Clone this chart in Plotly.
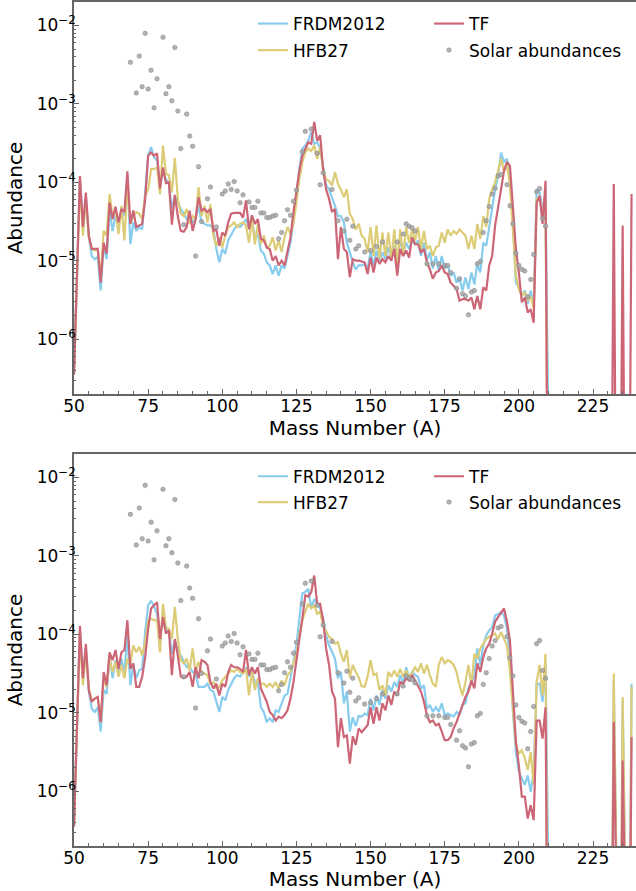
import plotly.graph_objects as go

# ---------------- data (log10 of abundance) ----------------
mass_main = list(range(50, 210))      # A = 50 .. 209
mass_tail = list(range(210, 239))     # A = 210 .. 238

# ---- top panel ----
frdm_top_log = [
    -6.45, -5.2, -3.95, -4.55, -4.2, -4.7, -4.94, -4.98, -4.95, -5.38,
    -4.81, -4.98, -4.34, -4.62, -4.43, -4.53, -4.36, -4.43, -3.92, -4.79,
    -4.51, -4.62, -4.57, -4.60, -4.17, -3.66, -3.55, -3.68, -3.72, -4.04,
    -3.87, -3.96, -4.02, -4.34, -4.17, -4.26, -4.34, -4.40, -4.47, -4.43,
    -4.51, -4.47, -4.30, -4.51, -4.53, -4.55, -4.55, -4.60, -4.85, -5.02,
    -4.85, -4.91, -4.74, -4.66, -4.60, -4.55, -4.57, -4.53, -4.47, -4.57,
    -4.51, -4.68, -4.66, -4.87, -4.91, -5.02, -5.06, -5.17, -5.06, -5.19,
    -5.06, -5.10, -4.94, -4.77, -4.47, -4.13, -3.83, -3.57, -3.53, -3.47,
    -3.36, -3.51, -3.49, -3.57, -3.83, -4.04, -4.09, -4.19, -4.30, -4.43,
    -4.43, -4.51, -4.77, -4.89, -5.02, -5.11, -5.06, -5.06, -5.04, -5.10,
    -4.89, -5.06, -4.87, -5.00, -4.89, -4.98, -4.83, -4.96, -4.81, -5.00,
    -4.74, -4.89, -4.77, -4.85, -4.74, -4.79, -4.74, -4.94, -4.77, -5.00,
    -4.89, -5.10, -4.94, -5.13, -4.94, -5.10, -5.06, -5.19, -5.15, -5.28,
    -5.23, -5.38, -5.21, -5.36, -5.15, -5.30, -5.04, -5.15, -4.77, -4.81,
    -4.55, -4.34, -4.09, -3.91, -3.62, -3.74, -3.70, -3.96, -4.51, -5.28,
    -5.34, -5.45, -5.38, -5.55, -5.38, -5.57, -4.09, -4.13, -4.34, -4.35,
]
hfb_top_log = [
    -6.45, -5.2, -4.0, -4.68, -4.21, -4.70, -4.85, -4.87, -4.85, -5.21,
    -4.62, -4.68, -4.15, -4.43, -4.34, -4.66, -4.30, -4.74, -4.04, -4.53,
    -4.43, -4.38, -4.40, -4.47, -4.17, -4.09, -3.83, -3.83, -3.81, -4.15,
    -3.53, -3.89, -3.91, -4.13, -3.69, -4.21, -4.40, -4.43, -4.34, -4.53,
    -4.43, -4.47, -4.06, -4.43, -4.30, -4.51, -4.28, -4.68, -4.81, -4.70,
    -4.83, -4.68, -4.57, -4.55, -4.51, -4.57, -4.53, -4.51, -4.55, -4.77,
    -4.47, -4.79, -4.53, -4.79, -4.68, -4.83, -4.81, -4.70, -4.87, -4.74,
    -4.89, -4.70, -4.57, -4.66, -4.53, -4.26, -3.96, -3.74, -3.62, -3.57,
    -3.60, -3.53, -3.70, -3.55, -3.83, -3.96, -3.98, -4.04, -3.87, -4.02,
    -4.09, -4.19, -4.09, -4.40, -4.47, -4.60, -4.53, -4.68, -4.72, -4.89,
    -4.57, -4.94, -4.55, -4.98, -4.64, -4.94, -4.64, -4.98, -4.60, -5.06,
    -4.60, -4.94, -4.57, -4.77, -4.60, -4.74, -4.57, -4.85, -4.62, -4.85,
    -4.81, -4.94, -4.83, -4.81, -4.64, -4.77, -4.60, -4.68, -4.62, -4.66,
    -4.60, -4.64, -4.68, -4.85, -4.68, -4.85, -4.53, -4.72, -4.43, -4.57,
    -4.21, -4.09, -4.00, -3.85, -3.70, -3.87, -3.77, -4.04, -4.68, -5.19,
    -5.36, -5.45, -5.40, -5.51, -5.45, -5.62, -4.21, -4.21, -4.38, -4.30,
]
tf_top_log = [
    -6.45, -5.2, -3.92, -4.57, -4.13, -4.68, -4.85, -4.85, -4.85, -5.28,
    -4.77, -4.91, -4.26, -4.47, -4.31, -4.51, -4.34, -4.38, -3.86, -4.53,
    -4.36, -4.57, -4.55, -4.53, -4.21, -3.66, -3.62, -3.66, -3.63, -4.08,
    -3.81, -4.01, -4.00, -4.54, -4.16, -4.43, -4.62, -4.63, -4.57, -4.36,
    -4.62, -4.47, -4.19, -4.36, -4.34, -4.38, -4.34, -4.62, -4.60, -4.81,
    -4.64, -4.68, -4.51, -4.40, -4.39, -4.39, -4.39, -4.45, -4.23, -4.60,
    -4.42, -4.53, -4.47, -4.72, -4.74, -4.83, -4.85, -5.00, -4.94, -5.06,
    -5.00, -5.06, -4.89, -4.70, -4.38, -4.11, -3.85, -3.66, -3.57, -3.49,
    -3.51, -3.23, -3.47, -3.40, -3.83, -4.09, -4.21, -4.38, -4.34, -4.98,
    -4.57, -4.85, -4.89, -5.21, -4.98, -5.00, -5.00, -5.01, -5.02, -5.17,
    -4.96, -5.15, -4.96, -5.04, -4.98, -5.02, -4.94, -5.00, -4.85, -5.19,
    -4.85, -4.94, -4.87, -4.96, -4.70, -4.79, -4.79, -4.89, -4.85, -5.02,
    -5.11, -5.23, -5.15, -5.13, -5.06, -5.15, -5.17, -5.28, -5.32, -5.36,
    -5.51, -5.49, -5.49, -5.51, -5.47, -5.62, -5.45, -5.62, -5.34, -5.38,
    -5.06, -4.94, -4.55, -4.34, -4.09, -3.85, -3.74, -3.79, -4.30, -4.85,
    -5.15, -5.53, -5.47, -5.66, -5.62, -5.79, -4.26, -4.17, -4.53, -3.98,
]
# A = 210..238 ; -10 marks a vanishing abundance (drawn off the bottom of the axis)
frdm_top_tail_log = [
    -10, -10, -10, -10, -10, -10, -10, -10, -10, -10, -10,
    -10, -10, -10, -10, -10, -10, -10, -10, -10, -10, -10,
    -10, -10, -10, -10, -10, -10, -10,
]
hfb_top_tail_log = [
    -10, -10, -10, -10, -10, -10, -10, -10, -10, -10, -10,
    -10, -10, -10, -10, -10, -10, -10, -10, -10, -10, -10,
    -10, -10, -10, -10, -10, -10, -10,
]
tf_top_tail_log = [
    -10, -10, -10, -10, -10, -10, -10, -10, -10, -10, -10,
    -10, -10, -10, -10, -10, -10, -10, -10, -10, -10, -10,
    -4.02, -10, -10, -4.55, -10, -10, -4.15,
]

# ---- bottom panel ----
frdm_bot_log = [
    -6.45, -5.2, -3.95, -4.52, -4.18, -4.73, -4.95, -4.99, -4.93, -5.24,
    -4.71, -4.76, -4.27, -4.56, -4.33, -4.52, -4.31, -4.50, -3.99, -4.65,
    -4.39, -4.56, -4.46, -4.44, -3.97, -3.63, -3.57, -3.65, -3.74, -4.01,
    -3.84, -3.95, -3.95, -4.25, -4.08, -4.20, -4.27, -4.35, -4.42, -4.42,
    -4.48, -4.50, -4.67, -4.67, -4.67, -4.63, -4.71, -4.73, -4.86, -4.99,
    -4.80, -4.84, -4.71, -4.63, -4.56, -4.52, -4.54, -4.48, -4.42, -4.54,
    -4.48, -4.61, -4.61, -4.93, -4.99, -5.12, -5.07, -5.12, -4.97, -4.99,
    -4.88, -4.78, -4.76, -4.56, -4.35, -4.14, -3.80, -3.48, -3.46, -3.42,
    -3.67, -3.55, -3.61, -3.67, -3.80, -4.01, -4.14, -4.23, -4.31, -4.56,
    -4.48, -4.88, -4.73, -5.24, -5.06, -5.17, -5.04, -5.05, -5.01, -5.03,
    -4.82, -4.97, -4.78, -4.90, -4.71, -4.82, -4.65, -4.73, -4.61, -4.67,
    -4.52, -4.63, -4.42, -4.56, -4.48, -4.52, -4.54, -4.69, -4.65, -4.95,
    -4.90, -4.99, -4.93, -4.99, -4.88, -5.03, -5.01, -5.03, -5.05, -4.99,
    -5.03, -4.90, -4.88, -4.69, -4.61, -4.54, -4.18, -4.39, -4.14, -4.01,
    -3.95, -3.91, -3.76, -3.74, -3.72, -3.76, -3.93, -4.27, -4.99, -5.50,
    -5.75, -5.84, -5.92, -5.80, -6.01, -5.75, -4.63, -4.63, -4.86, -4.39,
]
hfb_bot_log = [
    -6.45, -5.2, -4.0, -4.65, -4.23, -4.69, -4.86, -4.82, -4.80, -5.12,
    -4.56, -4.67, -4.31, -4.48, -4.35, -4.54, -4.39, -4.56, -4.31, -4.39,
    -4.14, -4.23, -4.16, -4.27, -4.10, -3.82, -3.80, -3.82, -3.82, -4.23,
    -3.61, -3.91, -3.93, -4.06, -3.65, -4.06, -4.33, -4.37, -4.31, -4.46,
    -4.18, -4.48, -4.35, -4.48, -4.50, -4.52, -4.63, -4.61, -4.69, -4.67,
    -4.59, -4.54, -4.50, -4.46, -4.48, -4.44, -4.48, -4.50, -4.44, -4.78,
    -4.48, -4.71, -4.56, -4.63, -4.63, -4.67, -4.63, -4.67, -4.61, -4.69,
    -4.59, -4.65, -4.52, -4.48, -4.35, -4.25, -4.01, -3.82, -3.71, -3.61,
    -3.67, -3.63, -3.74, -3.71, -3.89, -3.97, -4.03, -4.06, -4.12, -4.10,
    -4.25, -4.35, -4.20, -4.55, -4.39, -4.48, -4.55, -4.66, -4.67, -4.54,
    -4.33, -4.52, -4.50, -4.71, -4.65, -4.78, -4.48, -4.54, -4.46, -4.54,
    -4.44, -4.54, -4.46, -4.56, -4.48, -4.42, -4.48, -4.37, -4.50, -4.39,
    -4.52, -4.63, -4.67, -4.39, -4.29, -4.37, -4.33, -4.35, -4.39, -4.48,
    -4.65, -4.78, -4.61, -4.39, -4.65, -4.25, -4.31, -4.18, -4.12, -4.06,
    -4.03, -4.01, -3.99, -4.06, -3.97, -4.06, -4.14, -4.48, -4.97, -5.41,
    -5.52, -5.48, -5.58, -5.73, -5.50, -5.92, -4.61, -4.39, -4.78, -4.25,
]
tf_bot_log = [
    -6.45, -5.2, -3.89, -4.56, -4.12, -4.71, -4.86, -4.82, -4.80, -5.12,
    -4.48, -4.65, -4.23, -4.33, -4.20, -4.44, -4.23, -4.20, -3.82, -4.44,
    -4.37, -4.67, -4.67, -4.54, -4.29, -3.93, -3.67, -3.63, -3.59, -4.06,
    -3.78, -3.99, -3.95, -4.52, -4.06, -4.27, -4.54, -4.56, -4.54, -4.48,
    -4.67, -4.42, -4.56, -4.33, -4.35, -4.39, -4.61, -4.69, -4.63, -4.78,
    -4.63, -4.67, -4.48, -4.39, -4.42, -4.42, -4.44, -4.48, -4.20, -4.52,
    -4.42, -4.50, -4.42, -4.69, -4.78, -4.86, -4.99, -5.03, -5.10, -5.05,
    -5.07, -5.03, -4.97, -4.82, -4.61, -4.31, -4.06, -3.80, -3.50, -3.52,
    -3.46, -3.25, -3.61, -3.61, -3.82, -4.18, -4.39, -4.73, -4.82, -5.44,
    -5.07, -5.31, -5.29, -5.65, -5.30, -5.41, -5.20, -5.25, -5.20, -5.16,
    -4.93, -5.14, -4.93, -5.10, -4.88, -4.97, -4.78, -4.90, -4.73, -4.78,
    -4.61, -4.63, -4.56, -4.59, -4.52, -4.59, -4.65, -4.73, -4.86, -5.03,
    -5.12, -5.10, -5.16, -5.14, -5.24, -5.35, -5.35, -5.31, -5.20, -5.12,
    -5.01, -4.90, -4.80, -4.73, -4.59, -4.69, -4.37, -4.48, -4.29, -4.18,
    -4.12, -3.99, -3.84, -3.78, -3.72, -3.67, -3.84, -4.08, -4.73, -5.37,
    -5.67, -6.07, -6.07, -6.35, -6.18, -6.37, -5.10, -5.10, -5.33, -4.93,
]
frdm_bot_tail_log = [
    -10, -10, -10, -10, -10, -10, -10, -10, -10, -10, -10,
    -10, -10, -10, -10, -10, -10, -10, -10, -10, -10, -10,
    -4.60, -10, -10, -4.85, -10, -10, -4.63,
]
hfb_bot_tail_log = [
    -10, -10, -10, -10, -10, -10, -10, -10, -10, -10, -10,
    -10, -10, -10, -10, -10, -10, -10, -10, -10, -10, -10,
    -4.50, -10, -10, -4.80, -10, -10, -4.67,
]
tf_bot_tail_log = [
    -10, -10, -10, -10, -10, -10, -10, -10, -10, -10, -10,
    -10, -10, -10, -10, -10, -10, -10, -10, -10, -10, -10,
    -5.12, -10, -10, -5.61, -10, -10, -5.31,
]

# ---- solar r-process abundances (same in both panels) ----
solar_mass = [
    69, 71, 72, 73, 74, 75, 76, 77, 78, 80, 81, 82, 83, 84, 85, 86, 87, 88, 89, 90,
    91, 92, 93, 95, 96, 98, 100, 101, 102, 103, 104, 105, 106, 107, 109, 110, 111,
    112, 113, 114, 115, 116, 117, 118, 119, 120, 121, 122, 123, 124, 125, 127, 128,
    130, 132, 133, 134, 137, 139, 141, 142, 143, 144, 145, 146, 148, 150, 152, 154,
    159, 161, 162, 163, 164, 165, 169, 171, 173, 175, 176, 177, 179, 180, 181, 182,
    183, 184, 185, 186, 187, 188, 189, 190, 191, 192, 193, 194, 196, 197, 198, 199,
    200, 201, 202, 203, 204, 205, 206, 207, 208, 209,
]
solar_log = [
    -2.47, -2.86, -2.39, -2.78, -2.10, -2.81, -2.57, -3.05, -2.68, -2.15, -2.87,
    -2.78, -2.96, -2.28, -3.09, -3.57, -4.54, -3.13, -3.41, -3.54,
    -4.94, -3.80, -4.50, -4.21, -4.06, -4.57, -4.15, -4.11, -4.02, -4.09, -3.99,
    -4.11, -4.26, -4.16, -4.25, -4.32, -4.32,
    -4.24, -4.39, -4.39, -4.45, -4.45, -4.43, -4.42, -4.72, -4.64, -4.49, -4.35,
    -4.42, -4.24, -4.10, -3.61, -3.35,
    -3.32, -3.63, -4.03, -3.88, -4.09, -4.49, -4.62, -4.47, -4.74, -4.56, -4.85,
    -4.81, -4.89, -4.87, -4.82, -4.76,
    -4.76, -4.66, -4.53, -4.56, -4.58, -4.62, -5.04, -5.04, -5.04, -5.06, -5.06,
    -5.15, -5.35, -5.23, -5.42, -5.45,
    -5.69, -5.40, -5.38, -5.04, -5.01, -4.64, -4.49, -4.31, -4.15, -4.08, -3.92,
    -3.90, -4.03, -4.30, -4.53, -4.90,
    -5.06, -5.11, -5.13, -5.46, -5.24, -4.92, -4.12, -4.08, -4.46, -4.56,
]

y_tick_vals = [1e-6, 1e-5, 1e-4, 1e-3, 1e-2]
y_tick_text = ["10<sup>−6</sup>", "10<sup>−5</sup>", "10<sup>−4</sup>",
               "10<sup>−3</sup>", "10<sup>−2</sup>"]
x_tick_vals = [50, 75, 100, 125, 150, 175, 200, 225]

# ---------------- styling ----------------
C_FRDM = "#88CCEE"
C_HFB = "#DDCC77"
C_TF = "#CC6677"
C_SOLAR = "rgba(165,165,165,0.85)"
AX = "#666666"
FONT = "DejaVu Sans"

mass_all = mass_main + mass_tail


def pow10(vals):
    return [10 ** v for v in vals]


fig = go.Figure()

panels = [
    ("", "y", (frdm_top_log + frdm_top_tail_log, hfb_top_log + hfb_top_tail_log,
               tf_top_log + tf_top_tail_log), ["legend", "legend2", "legend3", "legend4"]),
    ("2", "y2", (frdm_bot_log + frdm_bot_tail_log, hfb_bot_log + hfb_bot_tail_log,
                 tf_bot_log + tf_bot_tail_log), ["legend5", "legend6", "legend7", "legend8"]),
]

for suffix, yref, (frdm, hfb, tf), legs in panels:
    xref = "x" + suffix
    for name, vals, col, lg in [("FRDM2012", frdm, C_FRDM, legs[0]),
                                ("HFB27", hfb, C_HFB, legs[1]),
                                ("TF", tf, C_TF, legs[2])]:
        fig.add_trace(go.Scatter(
            x=mass_all, y=pow10(vals), mode="lines", name=name,
            line=dict(color=col, width=2.2), xaxis=xref, yaxis=yref, legend=lg,
        ))
    fig.add_trace(go.Scatter(
        x=solar_mass, y=pow10(solar_log), mode="markers", name="Solar abundances",
        marker=dict(color=C_SOLAR, size=4.5, line=dict(color="rgba(125,125,125,0.9)", width=0.5)),
        xaxis=xref, yaxis=yref, legend=legs[3],
    ))

W, H = 636, 891
ML, MR, MT, MB = 74, 0, 2, 45
PH = H - MT - MB
top_dom = [(PH - 392) / PH, 1.0]
bot_dom = [0.0, 392 / PH]

minor_y = []
for e in range(-7, -1):
    for m in range(2, 10):
        minor_y.append(m * 10 ** e)

xcommon = dict(
    range=[50, 239.5], tickvals=x_tick_vals, ticks="inside", ticklen=5, tickwidth=1.2,
    tickcolor=AX, showline=True, linecolor=AX, linewidth=1.5, mirror=True,
    showgrid=False, zeroline=False, tickfont=dict(family=FONT, size=17, color="black"),
    ticklabelstandoff=-4,
    minor=dict(ticks="inside", ticklen=3, tickcolor=AX, dtick=5, tick0=50, showgrid=False),
    title=dict(text="Mass Number (A)", font=dict(family=FONT, size=20, color="black"), standoff=1),
)
ycommon = dict(
    type="log", range=[-6.70, -1.70], tickvals=y_tick_vals, ticktext=y_tick_text,
    ticks="inside", ticklen=5, tickwidth=1.2, tickcolor=AX, showline=True,
    linecolor=AX, linewidth=1.5, mirror=False, showgrid=False, zeroline=False,
    tickfont=dict(family=FONT, size=17, color="black"),
    ticklabelstandoff=-7,
    minor=dict(ticks="inside", ticklen=2.5, tickcolor=AX, tickvals=minor_y, showgrid=False),
    title=dict(text="Abundance", font=dict(family=FONT, size=20, color="black"), standoff=9),
)


def px_x(px):
    return (px - ML) / (W - ML - MR)


def px_y(py):
    return (H - MB - py) / PH


def leg(xpx, ypx):
    return dict(x=px_x(xpx), y=px_y(ypx), xanchor="left", yanchor="middle",
                bgcolor="rgba(0,0,0,0)", borderwidth=0,
                font=dict(family=FONT, size=17, color="black"))


fig.update_layout(
    width=W, height=H, margin=dict(l=ML, r=MR, t=MT, b=MB),
    paper_bgcolor="white", plot_bgcolor="white",
    font=dict(family=FONT, size=17, color="black"),
    xaxis=dict(anchor="y", domain=[0, 1], **xcommon),
    yaxis=dict(anchor="x", domain=top_dom, **ycommon),
    xaxis2=dict(anchor="y2", domain=[0, 1], **xcommon),
    yaxis2=dict(anchor="x2", domain=bot_dom, **ycommon),
    legend=leg(253, 24), legend2=leg(253, 50.5), legend3=leg(429, 24), legend4=leg(429, 50.5),
    legend5=leg(253, 476.7), legend6=leg(253, 502.5), legend7=leg(429, 476.7), legend8=leg(429, 502.5),
    showlegend=True,
)

# remove the browser's default page margin so the figure sits at the window origin
fig.write_html("out.html", config={"displayModeBar": False},
               post_script="document.body.style.margin='0px';")
